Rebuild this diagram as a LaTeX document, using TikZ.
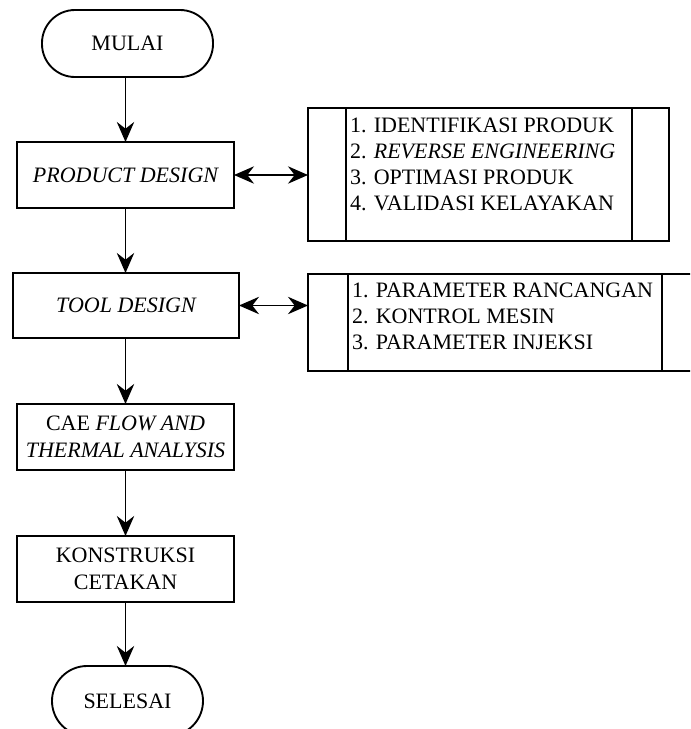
\documentclass[tikz,border=0pt]{standalone}
\usepackage{fontspec}
\setmainfont{Liberation Serif}
\usetikzlibrary{arrows.meta}
\begin{document}
\begin{tikzpicture}[x=0.75pt,y=-0.75pt,
  every node/.style={inner sep=0pt,outer sep=0pt},
  lbl/.style={font=\fontsize{16.5pt}{20pt}\selectfont,align=center},
  proc/.style={draw,line width=1.4pt,rectangle,minimum height=66*0.75pt,lbl},
  term/.style={draw,line width=1.4pt,rectangle,rounded corners=33*0.75pt,lbl},
  listbox/.style={draw,line width=1.4pt,rectangle},
  listtxt/.style={font=\fontsize{16.5pt}{19.6pt}\selectfont,align=left,anchor=north west},
  tip/.tip={Stealth[length=15pt,width=13pt,inset=5pt]},
  flow/.style={line width=1.4pt,-tip},
  both/.style={line width=1.4pt,tip-tip}
]
\useasboundingbox (0,0) rectangle (690,729);
\clip (0,0) rectangle (690,729);
\fill[white] (0,0) rectangle (690,729);

\node[term,minimum width=171*0.75pt,minimum height=67*0.75pt] (mulai) at (127.5,43.5) {MULAI};
\node[proc,minimum width=217*0.75pt] (prod) at (125.5,175) {\itshape PRODUCT DESIGN};
\node[proc,minimum width=226*0.75pt,minimum height=65*0.75pt] (tool) at (126,305.5) {\itshape TOOL DESIGN};
\node[proc,minimum width=217*0.75pt] (cae) at (125.5,437) {CAE \textit{FLOW AND}\\\textit{THERMAL ANALYSIS}};
\node[proc,minimum width=217*0.75pt] (kons) at (125.5,569) {KONSTRUKSI\\CETAKAN};
\node[term,minimum width=151*0.75pt,minimum height=70*0.75pt,rounded corners=35*0.75pt] (selesai) at (127.5,701) {SELESAI};

% list box 1
\node[listbox,minimum width=361*0.75pt,minimum height=133*0.75pt] (box1) at (488.5,174.5) {};
\coordinate (b1a) at (346,174.5);
\coordinate (b1b) at (632,174.5);
\draw[line width=1.4pt] (box1.north -| b1a) -- (box1.south -| b1a);
\draw[line width=1.4pt] (box1.north -| b1b) -- (box1.south -| b1b);
\node[listtxt] (box1txt) at (350,117.5) {1. IDENTIFIKASI PRODUK\\2. \textit{REVERSE ENGINEERING}\\3. OPTIMASI PRODUK\\4. VALIDASI KELAYAKAN};

% list box 2
\node[listbox,minimum width=412*0.75pt,minimum height=97*0.75pt] (box2) at (514,322.5) {};
\coordinate (b2a) at (348,322.5);
\coordinate (b2b) at (662,322.5);
\draw[line width=1.4pt] (box2.north -| b2a) -- (box2.south -| b2a);
\draw[line width=1.4pt] (box2.north -| b2b) -- (box2.south -| b2b);
\node[listtxt] (box2txt) at (352,282.5) {1. PARAMETER RANCANGAN\\2. KONTROL MESIN\\3. PARAMETER INJEKSI};

% connectors
\draw[flow] (mulai.south -| prod.north) -- (prod.north);
\draw[flow] (prod.south) -- (prod.south |- tool.north);
\draw[flow] (tool.south -| cae.north) -- (cae.north);
\draw[flow] (cae.south) -- (kons.north);
\draw[flow] (kons.south) -- (kons.south |- selesai.north);
\draw[both] (prod.east) -- (prod.east -| box1.west);
\draw[both] (tool.east) -- (tool.east -| box2.west);
\end{tikzpicture}
\end{document}
